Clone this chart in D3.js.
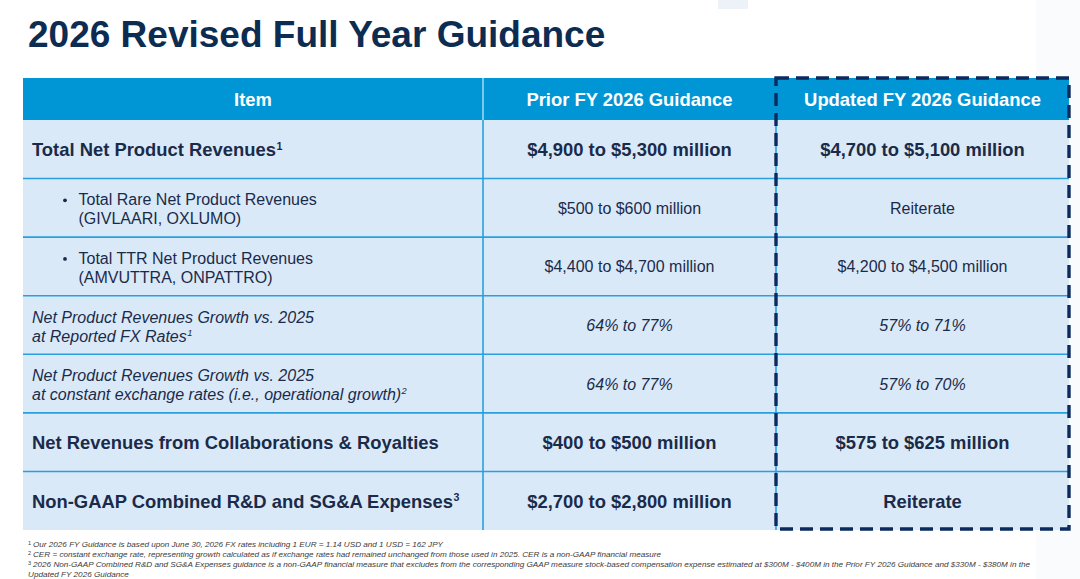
<!DOCTYPE html>
<html>
<head>
<meta charset="utf-8">
<script src="https://cdn.jsdelivr.net/npm/d3@7"></script>
<style>
  html, body { margin: 0; padding: 0; background: #ffffff; }
  svg { display: block; }
</style>
</head>
<body>
<script>
// ---------------- DATA ----------------
const title = "2026 Revised Full Year Guidance";
const columnHeaders = ["Item", "Prior FY 2026 Guidance", "Updated FY 2026 Guidance"];
const items = [
  "Total Net Product Revenues",
  "Total Rare Net Product Revenues\n(GIVLAARI, OXLUMO)",
  "Total TTR Net Product Revenues\n(AMVUTTRA, ONPATTRO)",
  "Net Product Revenues Growth vs. 2025\nat Reported FX Rates",
  "Net Product Revenues Growth vs. 2025\nat constant exchange rates (i.e., operational growth)",
  "Net Revenues from Collaborations & Royalties",
  "Non-GAAP Combined R&D and SG&A Expenses"
];
const itemNotes = ["1", "", "", "1", "2", "", "3"];
const itemLevels = ["main", "sub", "sub", "growth", "growth", "main", "main"];
const priorGuidance = [
  "$4,900 to $5,300 million",
  "$500 to $600 million",
  "$4,400 to $4,700 million",
  "64% to 77%",
  "64% to 77%",
  "$400 to $500 million",
  "$2,700 to $2,800 million"
];
const updatedGuidance = [
  "$4,700 to $5,100 million",
  "Reiterate",
  "$4,200 to $4,500 million",
  "57% to 71%",
  "57% to 70%",
  "$575 to $625 million",
  "Reiterate"
];
const footnoteMarks = ["1", "2", "3", ""];
const footnotes = [
  "Our 2026 FY Guidance is based upon June 30, 2026 FX rates including 1 EUR = 1.14 USD and 1 USD = 162 JPY",
  "CER = constant exchange rate, representing growth calculated as if exchange rates had remained unchanged from those used in 2025. CER is a non-GAAP financial measure",
  "2026 Non-GAAP Combined R&D and SG&A Expenses guidance is a non-GAAP financial measure that excludes from the corresponding GAAP measure stock-based compensation expense estimated at $300M - $400M in the Prior FY 2026 Guidance and $330M - $380M in the",
  "Updated FY 2026 Guidance"
];

// ---------------- LAYOUT ----------------
const W = 1080, H = 579;
const FONT = "'Liberation Sans', Arial, Helvetica, sans-serif";
const NARROW = "'Liberation Sans Narrow', 'Arial Narrow', 'Liberation Sans', Arial, sans-serif";
const colEdges = [23, 483, 776, 1069];
const headerTop = 78, headerBottom = 120, tableBottom = 530;

const C = {
  title: "#0c2c52",
  header: "#0096d6",
  row: "#dae9f8",
  grid: "#2a9fde",
  text: "#1a2b4a",
  dash: "#0b2a5e",
  foot: "#3a3a3a"
};

const svg = d3.select("body").append("svg")
  .attr("width", W).attr("height", H)
  .attr("viewBox", `0 0 ${W} ${H}`);

// faint background artefacts of the slide
svg.append("rect").attr("x", 1036).attr("y", 0).attr("width", 44).attr("height", H).attr("fill", "#fafbfc");
svg.append("rect").attr("x", 718).attr("y", 0).attr("width", 30).attr("height", 9).attr("fill", "#edf2f9");

// Title
svg.append("text")
  .attr("x", 28).attr("y", 47)
  .attr("font-family", FONT).attr("font-weight", "bold")
  .attr("font-size", 37).attr("fill", C.title)
  .text(title);

// Scales
const rowIdx = d3.range(items.length);
const y = d3.scaleBand().domain(rowIdx).range([headerBottom, tableBottom]).paddingInner(0).paddingOuter(0);
const colIdx = d3.range(columnHeaders.length);
const xLeft = d3.scaleOrdinal().domain(colIdx).range(colEdges.slice(0, 3));
const xRight = d3.scaleOrdinal().domain(colIdx).range(colEdges.slice(1));
const xMid = i => (xLeft(i) + xRight(i)) / 2;

// Header
svg.append("rect")
  .attr("x", colEdges[0]).attr("y", headerTop)
  .attr("width", colEdges[3] - colEdges[0]).attr("height", headerBottom - headerTop)
  .attr("fill", C.header);

svg.append("g").selectAll("text").data(columnHeaders).join("text")
  .attr("x", (d, i) => xMid(i))
  .attr("y", headerTop + (headerBottom - headerTop) / 2 + 7)
  .attr("text-anchor", "middle")
  .attr("font-family", FONT).attr("font-weight", "bold")
  .attr("font-size", 18.4).attr("fill", "#ffffff")
  .text(d => d);

// Body background
svg.append("rect")
  .attr("x", colEdges[0]).attr("y", headerBottom)
  .attr("width", colEdges[3] - colEdges[0]).attr("height", tableBottom - headerBottom)
  .attr("fill", C.row);

// Horizontal grid lines between rows
svg.append("g").selectAll("line").data(rowIdx.slice(1)).join("line")
  .attr("x1", colEdges[0]).attr("x2", colEdges[3])
  .attr("y1", d => y(d)).attr("y2", d => y(d))
  .attr("stroke", C.grid).attr("stroke-width", 1.6);

// Vertical lines
svg.append("line")
  .attr("x1", colEdges[1]).attr("x2", colEdges[1])
  .attr("y1", headerTop).attr("y2", headerBottom)
  .attr("stroke", "#bfe3f5").attr("stroke-width", 1.3);
[1, 2].forEach(k => {
  svg.append("line")
    .attr("x1", colEdges[k]).attr("x2", colEdges[k])
    .attr("y1", headerBottom).attr("y2", tableBottom)
    .attr("stroke", C.grid).attr("stroke-width", 1.6);
});

// Cell texts
const styleFor = lvl => {
  if (lvl === "main") return { size: 18.4, weight: "bold", style: "normal" };
  if (lvl === "sub") return { size: 16, weight: "normal", style: "normal" };
  return { size: 16, weight: "normal", style: "italic" };
};

const rows = svg.append("g").selectAll("g").data(rowIdx).join("g");

rows.each(function (i) {
  const g = d3.select(this);
  const s = styleFor(itemLevels[i]);
  const cy = y(i) + y.bandwidth() / 2;
  const lines = items[i].split("\n");
  const labelX = itemLevels[i] === "sub" ? 78.5 : 32;

  if (itemLevels[i] === "sub") {
    g.append("circle").attr("cx", 65).attr("cy", cy - 7.5).attr("r", 1.9).attr("fill", C.text);
  }

  const baselines = lines.length === 1 ? [cy + 7] : [cy - 2.5, cy + 16.5];
  lines.forEach((ln, li) => {
    const t = g.append("text")
      .attr("x", labelX).attr("y", baselines[li])
      .attr("font-family", FONT).attr("font-weight", s.weight)
      .attr("font-style", s.style).attr("font-size", s.size)
      .attr("fill", C.text);
    t.append("tspan").text(ln);
    if (li === lines.length - 1 && itemNotes[i]) {
      t.append("tspan")
        .attr("dy", -s.size * 0.36)
        .attr("dx", 0.5)
        .attr("font-size", s.size * 0.58)
        .text(itemNotes[i]);
    }
  });

  [priorGuidance[i], updatedGuidance[i]].forEach((v, k) => {
    g.append("text")
      .attr("x", xMid(k + 1))
      .attr("y", cy + (s.size > 17 ? 7 : 6))
      .attr("text-anchor", "middle")
      .attr("font-family", FONT).attr("font-weight", s.weight)
      .attr("font-style", s.style).attr("font-size", s.size)
      .attr("fill", C.text)
      .text(v);
  });
});

// Dashed highlight box around updated guidance column
svg.append("rect")
  .attr("x", colEdges[2]).attr("y", headerTop)
  .attr("width", colEdges[3] - colEdges[2]).attr("height", tableBottom - 1 - headerTop)
  .attr("fill", "none")
  .attr("stroke", C.dash).attr("stroke-width", 3.4)
  .attr("stroke-dasharray", "13 7");

// Footnotes
const footBase = [547, 557.2, 567.4, 577.4];
const footEnds = [443, 661, 1030];
const footStartX = 33;
let ratio = 1;
const fg = svg.append("g");
footnotes.forEach((f, i) => {
  if (footnoteMarks[i]) {
    fg.append("text")
      .attr("x", 28).attr("y", footBase[i] - 2.5)
      .attr("font-family", NARROW).attr("font-size", 5.5)
      .attr("fill", C.foot).text(footnoteMarks[i]);
  }
  const t = fg.append("text")
    .attr("x", footStartX).attr("y", footBase[i])
    .attr("font-family", NARROW).attr("font-style", "italic")
    .attr("font-size", 7.6).attr("fill", C.foot)
    .text(f);
  const natural = t.node().getComputedTextLength();
  if (i < footEnds.length) {
    const target = footEnds[i] - footStartX;
    ratio = target / natural;
    t.attr("textLength", target).attr("lengthAdjust", "spacingAndGlyphs");
  } else {
    t.attr("x", 28).attr("textLength", natural * ratio).attr("lengthAdjust", "spacingAndGlyphs");
  }
});
</script>
</body>
</html>
